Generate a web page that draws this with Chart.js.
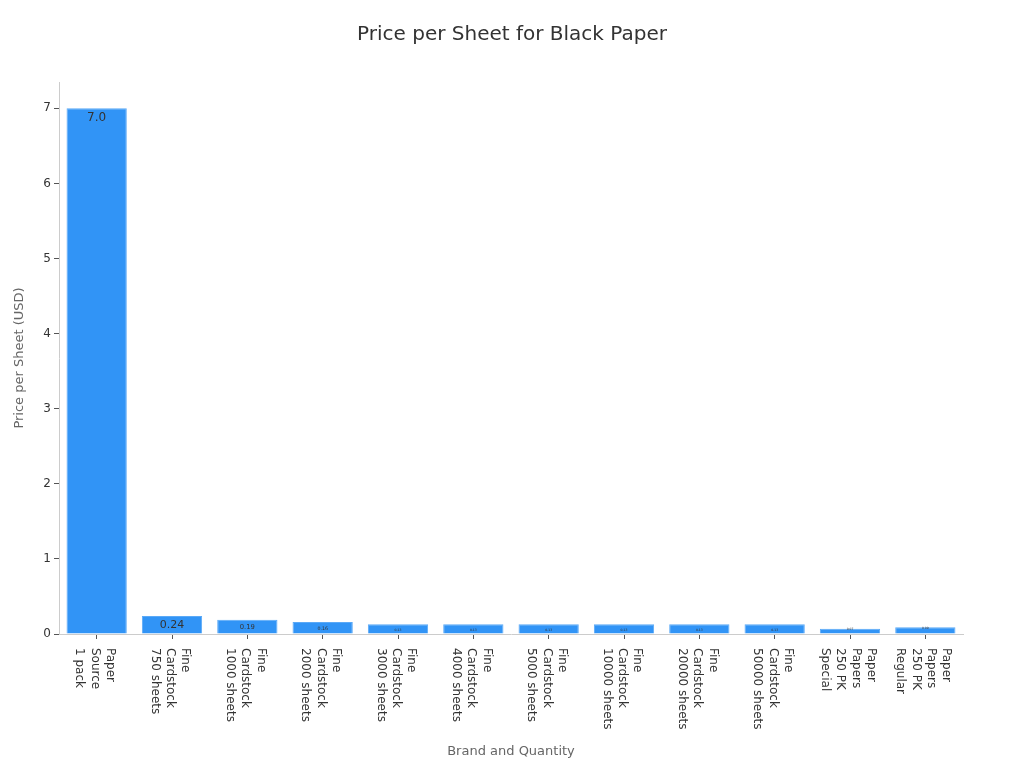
<!DOCTYPE html>
<html>
<head>
<meta charset="utf-8">
<script src="https://cdn.jsdelivr.net/npm/chart.js@4/dist/chart.umd.min.js"></script>
<style>
    body { margin: 0; background: #ffffff; }
    #wrap { width: 1024px; height: 768px; }
</style>
</head>
<body>
<div id="wrap"><canvas id="myChart"></canvas></div>
<script>
const categories = [
    ['Paper', 'Source', '1 pack'],
    ['Fine', 'Cardstock', '750 sheets'],
    ['Fine', 'Cardstock', '1000 sheets'],
    ['Fine', 'Cardstock', '2000 sheets'],
    ['Fine', 'Cardstock', '3000 sheets'],
    ['Fine', 'Cardstock', '4000 sheets'],
    ['Fine', 'Cardstock', '5000 sheets'],
    ['Fine', 'Cardstock', '10000 sheets'],
    ['Fine', 'Cardstock', '20000 sheets'],
    ['Fine', 'Cardstock', '50000 sheets'],
    ['Paper', 'Papers', '250 PK', 'Special'],
    ['Paper', 'Papers', '250 PK', 'Regular']
];
const pricePerSheet = [7.0, 0.24, 0.19, 0.16, 0.13, 0.13, 0.13, 0.13, 0.13, 0.13, 0.07, 0.09];
const yTicks = [0, 1, 2, 3, 4, 5, 6, 7];

const FONT = '"DejaVu Sans", sans-serif';

// draws the x labels turned clockwise, reading top to bottom
const sideLabels = {
    id: 'sideLabels',
    afterDraw(chart) {
        const ctx = chart.ctx;
        const xScale = chart.scales.x;
        const lineGap = 15.3;
        ctx.save();
        ctx.font = '12px ' + FONT;
        ctx.fillStyle = '#333333';
        ctx.textAlign = 'left';
        ctx.textBaseline = 'middle';
        categories.forEach((lines, i) => {
            const x = xScale.getPixelForValue(i) - 2;
            ctx.save();
            ctx.translate(x, 648);
            ctx.rotate(Math.PI / 2);
            const start = -(lines.length - 1) * lineGap / 2;
            lines.forEach((line, j) => {
                ctx.fillText(line, 0, start + j * lineGap);
            });
            ctx.restore();
        });
        ctx.restore();
    }
};

// value labels inside the top of each bar, smaller for short bars
const barValues = {
    id: 'barValues',
    afterDatasetsDraw(chart) {
        const ctx = chart.ctx;
        const meta = chart.getDatasetMeta(0);
        ctx.save();
        ctx.fillStyle = '#333333';
        ctx.textAlign = 'center';
        ctx.textBaseline = 'top';
        meta.data.forEach((bar, i) => {
            const h = bar.base - bar.y;
            const size = Math.max(3, Math.min(12, h * h / 28));
            const v = pricePerSheet[i];
            const text = v >= 1 ? v.toFixed(1) : v.toFixed(2);
            ctx.font = size.toFixed(1) + 'px ' + FONT;
            ctx.fillText(text, bar.x, h > 8 ? bar.y + 4 : bar.y - 1);
        });
        ctx.restore();
    }
};

const ctx = document.getElementById('myChart');
new Chart(ctx, {
    type: 'bar',
    data: {
        labels: categories.map(l => l.join(' ')),
        datasets: [{
            label: 'Price per Sheet (USD)',
            data: pricePerSheet,
            backgroundColor: '#3194f6',
            borderColor: '#5aa9f7',
            borderWidth: 1,
            barPercentage: 0.8,
            categoryPercentage: 1.0
        }]
    },
    options: {
        responsive: true,
        maintainAspectRatio: false,
        animation: false,
        layout: {
            padding: { left: 12, right: 12, top: 0, bottom: 9 }
        },
        plugins: {
            legend: { display: false },
            tooltip: { enabled: false },
            title: {
                display: true,
                text: 'Price per Sheet for Black Paper',
                color: '#333333',
                font: { family: FONT, size: 20, weight: 'normal' },
                padding: { top: 23, bottom: 35 }
            }
        },
        scales: {
            x: {
                afterFit: scale => { scale.height = 125; },
                border: { display: true, color: '#cccccc' },
                grid: {
                    display: true,
                    drawOnChartArea: false,
                    drawTicks: true,
                    tickLength: 5,
                    offset: false,
                    color: '#555555'
                },
                ticks: {
                    autoSkip: false,
                    maxRotation: 0,
                    callback: () => ''
                },
                title: {
                    display: true,
                    text: 'Brand and Quantity',
                    color: '#666666',
                    font: { family: FONT, size: 13 },
                    padding: 0
                }
            },
            y: {
                min: 0,
                max: 7.35,
                afterFit: scale => { scale.width = 47; },
                afterBuildTicks: scale => {
                    scale.ticks = yTicks.map(v => ({ value: v }));
                },
                border: { display: true, color: '#cccccc' },
                grid: {
                    display: true,
                    drawOnChartArea: false,
                    drawTicks: true,
                    tickLength: 5,
                    color: '#555555'
                },
                ticks: {
                    color: '#333333',
                    padding: 3,
                    font: { family: FONT, size: 12 }
                },
                title: {
                    display: true,
                    text: 'Price per Sheet (USD)',
                    color: '#666666',
                    font: { family: FONT, size: 13 },
                    padding: 0
                }
            },
            // empty right-hand space so the plot ends where the reference does
            yRight: {
                position: 'right',
                min: 0,
                max: 7.35,
                afterFit: scale => { scale.width = 49; },
                border: { display: false },
                grid: { display: false },
                ticks: { display: false }
            }
        }
    },
    plugins: [barValues, sideLabels]
});
</script>
</body>
</html>
